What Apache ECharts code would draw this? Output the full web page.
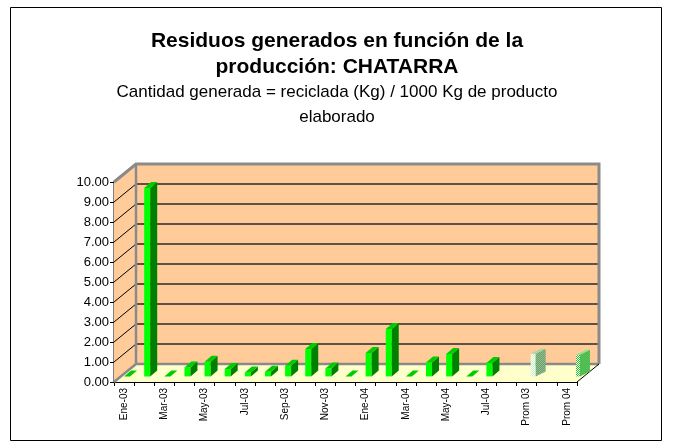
<!DOCTYPE html>
<html>
<head>
<meta charset="utf-8">
<script src="https://cdn.jsdelivr.net/npm/echarts@6/dist/echarts.min.js"></script>
<style>
  html, body { margin: 0; padding: 0; background: #fff; }
  #chart { width: 674px; height: 444px; }
</style>
</head>
<body>
<div id="chart"></div>
<script>
// categories on the x axis (index 19 and 21 are empty slots)
const categories = ['Ene-03', 'Feb-03', 'Mar-03', 'Abr-03', 'May-03', 'Jun-03', 'Jul-03', 'Ago-03',
  'Sep-03', 'Oct-03', 'Nov-03', 'Dic-03', 'Ene-04', 'Feb-04', 'Mar-04', 'Abr-04', 'May-04',
  'Jun-04', 'Jul-04', 'Ago-04', 'Prom 03', ' ', 'Prom 04'];
// kg / 1000 kg
const monthly = [0, 9.42, 0, 0.45, 0.73, 0.37, 0.2, 0.23, 0.53, 1.37, 0.4, 0,
  1.17, 2.37, 0, 0.7, 1.12, 0, 0.67, null, null, null, null];
const prom03 = [null, null, null, null, null, null, null, null, null, null, null, null,
  null, null, null, null, null, null, null, null, 1.13, null, null];
const prom04 = [null, null, null, null, null, null, null, null, null, null, null, null,
  null, null, null, null, null, null, null, null, null, null, 1.08];
const yTicks = [0, 1, 2, 3, 4, 5, 6, 7, 8, 9, 10];

const FONT = '"Liberation Sans", Arial, sans-serif';
const DX = 22, DY = -18;        // depth of the walls
const BAR_DY = -5.6;            // bars stand a bit behind the front edge

function makePattern(bg, dot, step) {
  const c = document.createElement('canvas');
  c.width = step; c.height = step;
  const g = c.getContext('2d');
  g.fillStyle = bg; g.fillRect(0, 0, step, step);
  g.fillStyle = dot;
  g.fillRect(0, 0, 1, 1);
  g.fillRect(Math.floor(step / 2), Math.floor(step / 2), 1, 1);
  return { image: c, repeat: 'repeat' };
}

const toPairs = arr => arr.map((v, i) => [i, v]).filter(d => d[1] !== null);

function wallsItem(params, api) {
  const cs = params.coordSys;
  const x0 = cs.x, y0 = cs.y, w = cs.width, h = cs.height;
  const yb = y0 + h;
  const children = [
    { type: 'polygon', shape: { points: [[x0, yb], [x0, y0], [x0 + DX, y0 + DY], [x0 + DX, yb + DY]] },
      style: { fill: '#FFCC99' } },
    { type: 'rect', shape: { x: x0 + DX, y: y0 + DY, width: w, height: h },
      style: { fill: '#FFCC99' } },
    { type: 'polygon', shape: { points: [[x0, yb], [x0 + w, yb], [x0 + w + DX, yb + DY], [x0 + DX, yb + DY]] },
      style: { fill: '#FFFFCC' } }
  ];
  yTicks.forEach(v => {
    if (v === 0 || v === 10) return;
    const y = api.coord([0, v])[1];
    children.push({ type: 'line', shape: { x1: x0 + DX, y1: y + DY, x2: x0 + w + DX, y2: y + DY },
      style: { stroke: '#2a2a2a', lineWidth: 1.5 } });
    children.push({ type: 'line', shape: { x1: x0, y1: y, x2: x0 + DX, y2: y + DY },
      style: { stroke: '#000', lineWidth: 1 } });
  });
  const gray = { stroke: '#8a8a8a', lineWidth: 2.5, fill: null };
  children.push({ type: 'polyline', shape: { points: [[x0, y0], [x0 + DX, y0 + DY], [x0 + w + DX, y0 + DY], [x0 + w + DX, yb + DY]] }, style: Object.assign({}, gray, { lineWidth: 3 }) });
  children.push({ type: 'polyline', shape: { points: [[x0, yb], [x0 + DX, yb + DY], [x0 + w + DX, yb + DY]] }, style: gray });
  children.push({ type: 'line', shape: { x1: x0 + DX, y1: y0 + DY, x2: x0 + DX, y2: yb + DY }, style: gray });
  children.push({ type: 'line', shape: { x1: x0 + w, y1: yb, x2: x0 + w + DX, y2: yb + DY }, style: { stroke: '#000', lineWidth: 1 } });
  return { type: 'group', children };
}

function barRenderer(s) {
  return function (params, api) {
    const i = api.value(0), v = api.value(1);
    const base = api.coord([i, 0]);
    const top = api.coord([i, v]);
    const x = base[0] + s.shift;
    const yb = base[1] + BAR_DY;
    const yt = top[1] + BAR_DY;
    const w = s.w, dx = s.dx, dy = s.dy;
    return {
      type: 'group',
      children: [
        { type: 'rect', shape: { x: x, y: yt, width: w, height: yb - yt }, style: { fill: s.front } },
        { type: 'polygon', shape: { points: [[x + w, yb], [x + w, yt], [x + w + dx, yt + dy], [x + w + dx, yb + dy]] }, style: { fill: s.side } },
        { type: 'polygon', shape: { points: [[x, yt], [x + w, yt], [x + w + dx, yt + dy], [x + dx, yt + dy]] }, style: { fill: s.top } }
      ]
    };
  };
}

const chart = echarts.init(document.getElementById('chart'));
chart.setOption({
  backgroundColor: '#fff',
  animation: false,
  title: {
    text: 'Residuos generados en función de la\nproducción: CHATARRA',
    subtext: 'Cantidad generada = reciclada (Kg) / 1000 Kg de producto\nelaborado',
    left: 'center',
    top: 23,
    padding: 5,
    itemGap: 0,
    textStyle: { fontFamily: FONT, fontSize: 21, fontWeight: 'bold', color: '#000', lineHeight: 26 },
    subtextStyle: { fontFamily: FONT, fontSize: 17, color: '#000', lineHeight: 25 }
  },
  graphic: [{
    type: 'rect', silent: true, z: 100,
    shape: { x: 10.5, y: 7.5, width: 651, height: 433 },
    style: { fill: null, stroke: '#000', lineWidth: 1 }
  }],
  grid: { left: 114, top: 182, width: 463, height: 200, containLabel: false },
  xAxis: {
    type: 'category',
    data: categories,
    boundaryGap: true,
    axisLine: { lineStyle: { color: '#000', width: 1 } },
    axisTick: { show: true, interval: 0, length: 4, lineStyle: { color: '#000' } },
    axisLabel: { interval: 1, rotate: 90, fontFamily: FONT, fontSize: 10, color: '#000', margin: 6, hideOverlap: false },
    splitLine: { show: false }
  },
  yAxis: {
    type: 'value',
    min: 0, max: 10, interval: 1,
    axisLine: { show: true, lineStyle: { color: '#808080', width: 2 } },
    axisTick: { show: true, length: 4, lineStyle: { color: '#000' } },
    axisLabel: { fontFamily: FONT, fontSize: 13, color: '#000', margin: 5, formatter: v => v.toFixed(2) },
    splitLine: { show: false }
  },
  series: [
    { type: 'custom', name: 'walls', clip: false, z: 1, silent: true,
      renderItem: wallsItem, data: [[0, 0]] },
    { type: 'custom', name: 'Mensual', clip: false, z: 2,
      renderItem: barRenderer({ shift: 0, w: 6, dx: 7, dy: -6, front: '#00FF00', side: '#008000', top: '#00CC00' }),
      data: toPairs(monthly) },
    { type: 'custom', name: 'Prom 03', clip: false, z: 2,
      renderItem: barRenderer({ shift: 4, w: 5, dx: 10, dy: -5,
        front: makePattern('#C6F7C6', '#ffffff', 2), side: makePattern('#6F9F6F', '#8FBF8F', 2), top: '#A6D6A6' }),
      data: toPairs(prom03) },
    { type: 'custom', name: 'Prom 04', clip: false, z: 2,
      renderItem: barRenderer({ shift: 9, w: 4, dx: 10, dy: -5,
        front: makePattern('#ffffff', '#22CC22', 2), side: makePattern('#6F9F6F', '#33DD33', 2), top: '#99DD99' }),
      data: toPairs(prom04) }
  ]
});
</script>
</body>
</html>
